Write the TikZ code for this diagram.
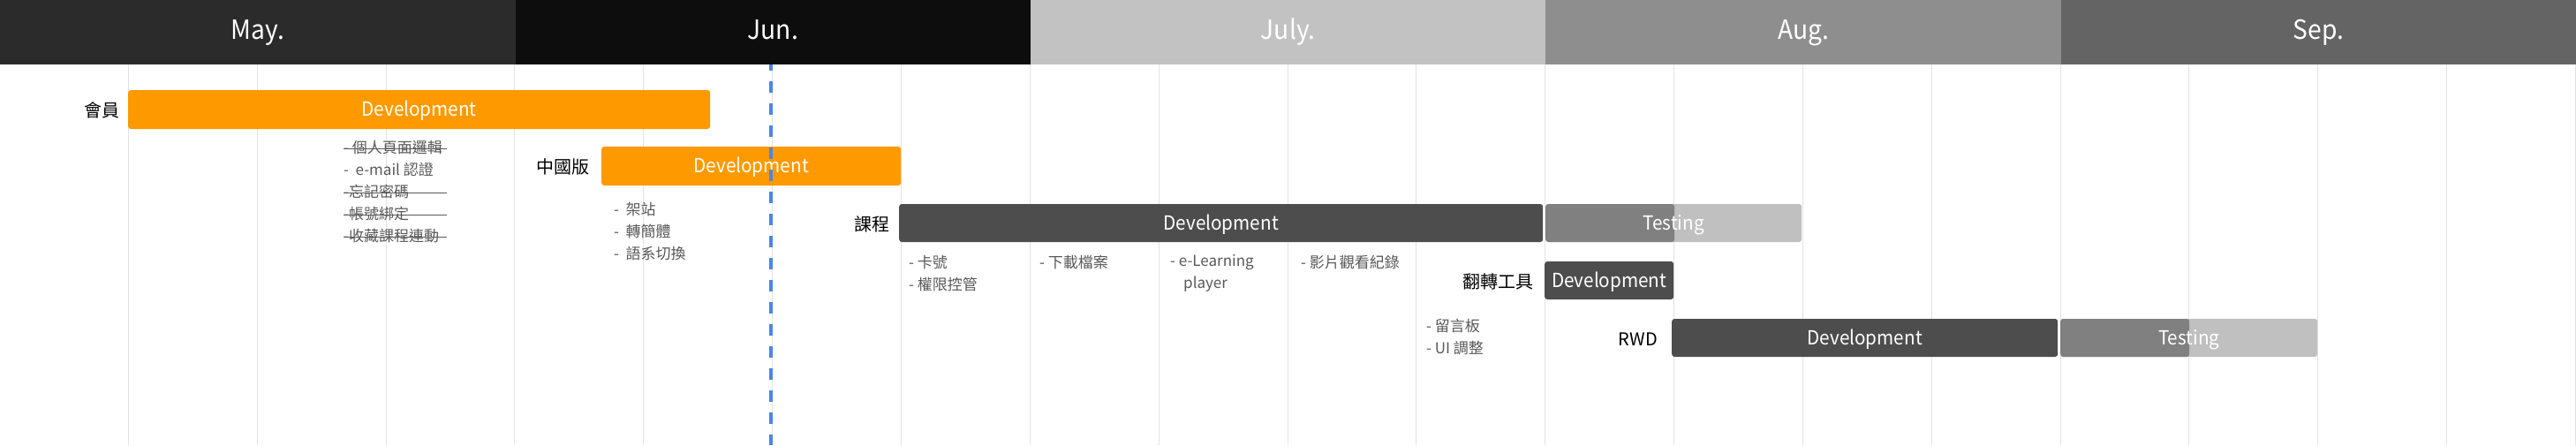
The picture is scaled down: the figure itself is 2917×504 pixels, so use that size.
\documentclass[tikz,border=0pt]{standalone}
\usepackage{fontspec}
\setmainfont{Noto Sans CJK TC}
\newfontfamily\barfont[FakeStretch=0.94]{Noto Sans CJK TC}
\definecolor{orangebar}{HTML}{FF9900}
\definecolor{darkbar}{HTML}{4D4D4D}
\definecolor{midbar}{HTML}{808080}
\definecolor{lightbar}{HTML}{C0C0C0}
\definecolor{gridc}{HTML}{E3E3E3}
\definecolor{todayc}{HTML}{4A86E8}
\definecolor{subtext}{HTML}{595959}
\definecolor{mayc}{HTML}{2B2B2B}
\definecolor{junc}{HTML}{0D0D0D}
\definecolor{julc}{HTML}{C2C2C2}
\definecolor{augc}{HTML}{8E8E8E}
\definecolor{sepc}{HTML}{646464}
\begin{document}
\begin{tikzpicture}[x=1pt,y=-1pt,
  monthbox/.style={anchor=north west, inner sep=0pt, minimum width=583.4pt, minimum height=73pt, text height=22pt, text depth=7pt, text=white, font=\barfont\fontsize{30}{36}\selectfont},
  bar/.style={anchor=west, rounded corners=3pt, inner sep=0pt, text height=16pt, text depth=1pt, text=white, font=\barfont\fontsize{22}{26}\selectfont},
  bartext/.style={text=white, inner sep=0pt, text height=16pt, text depth=1pt, font=\barfont\fontsize{22}{26}\selectfont},
  rowlabel/.style={anchor=east, inner sep=0pt, text=black, font=\fontsize{20}{24}\selectfont},
  item/.style={anchor=west, inner sep=0pt, text=subtext, font=\fontsize{17}{20}\selectfont},
  strike/.style={draw=subtext, line width=1pt}]
\useasboundingbox (0,0) rectangle (2917,504);
\fill[white] (0,0) rectangle (2917,504);
% header
\node[monthbox, fill=mayc] (may) at (0,0) {May.};
\node[monthbox, fill=junc] (jun) at (583.4,0) {Jun.};
\node[monthbox, fill=julc] (jul) at (1166.8,0) {July.};
\node[monthbox, fill=augc] (aug) at (1750.2,0) {Aug.};
\node[monthbox, fill=sepc] (sep) at (2333.6,0) {Sep.};
% grid
\foreach \k in {1,...,20} \draw[gridc, line width=1pt] ({\k*145.85-0.5},73) -- ({\k*145.85-0.5},504);
% row 1
\node[rowlabel] (l1) at (136,125) {會員};
\node[bar, fill=orangebar, minimum width=659pt, minimum height=44pt] (m1) at (145,124) {Development};
\node[item] (s1) at (389,167) {-\ 個人頁面邏輯};
\node[item] (s2) at (389,192) {-\ \ e-mail 認證};
\node[item] (s3) at (389,217) {-忘記密碼};
\node[item] (s4) at (389,242) {-帳號綁定};
\node[item] (s5) at (389,267) {-收藏課程連動};
\foreach \s in {s1,s3,s4,s5} \draw[strike] ([yshift=-1.5pt]\s.west) -- ++(117,0);
% row 2
\node[rowlabel] (l2) at (668,189) {中國版};
\node[bar, fill=orangebar, minimum width=339pt, minimum height=44pt] (c1) at (681,188) {Development};
\node[item] (t1) at (695,237) {-\ \ 架站};
\node[item] (t2) at (695,262) {-\ \ 轉簡體};
\node[item] (t3) at (695,287) {-\ \ 語系切換};
% row 3
\node[rowlabel] (l3) at (1008,254) {課程};
\node[bar, fill=darkbar, minimum width=729pt, minimum height=43pt] (k1) at (1018,252.5) {Development};
\node[bar, fill=lightbar, minimum width=290pt, minimum height=43pt] (k2) at (1750,252.5) {};
\node[bar, fill=midbar, minimum width=146pt, minimum height=43pt] (k2a) at (1750,252.5) {};
\node[bartext] (k2t) at (k2.center) {Testing};
\node[item] (u1) at (1029,297) {- 卡號};
\node[item] (u2) at (1029,322) {- 權限控管};
\node[item] (u3) at (1177,297) {- 下載檔案};
\node[item] (u4) at (1325,297) {- e-Learning};
\node[item] (u5) at (1340,322) {player};
\node[item] (u6) at (1473,297) {- 影片觀看紀錄};
% row 4
\node[rowlabel] (l4) at (1737,319) {翻轉工具};
\node[bar, fill=darkbar, minimum width=146pt, minimum height=43pt] (f1) at (1749,317.5) {Development};
\node[item] (v1) at (1615,369) {- 留言板};
\node[item] (v2) at (1615,394) {- UI 調整};
% row 5
\node[rowlabel] (l5) at (1877,384) {RWD};
\node[bar, fill=darkbar, minimum width=437pt, minimum height=43pt] (r1) at (1893,382.5) {Development};
\node[bar, fill=lightbar, minimum width=291pt, minimum height=43pt] (r2) at (2333,382.5) {};
\node[bar, fill=midbar, minimum width=146pt, minimum height=43pt] (r2a) at (2333,382.5) {};
\node[bartext] (r2t) at (r2.center) {Testing};
% today marker
\coordinate (td1) at (873,73);
\coordinate (td2) at (873,504);
\draw[todayc, line width=3.5pt, dash pattern=on 13pt off 12pt, dash phase=6pt] (td1) -- (td2);
\end{tikzpicture}
\end{document}
